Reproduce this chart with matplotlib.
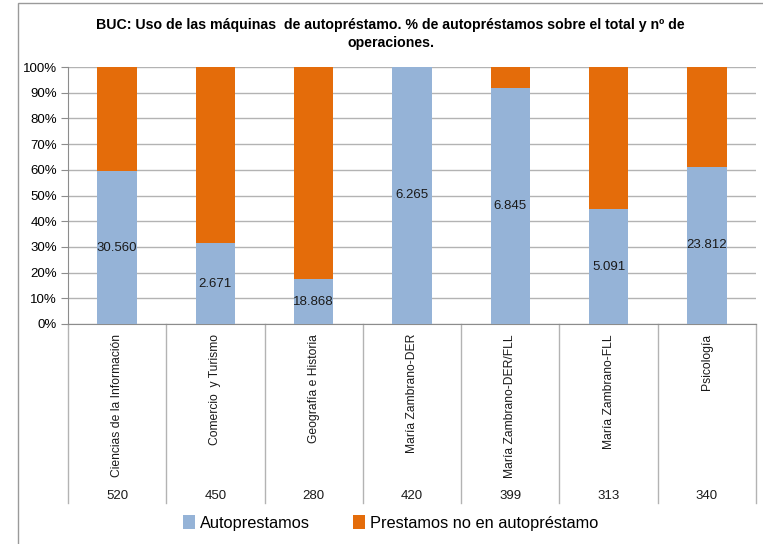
import matplotlib.pyplot as plt
from matplotlib.patches import Rectangle, Patch
from matplotlib.transforms import blended_transform_factory

plt.rcParams['font.family'] = ['Liberation Sans', 'DejaVu Sans']

categories = ['Ciencias de la Información', 'Comercio  y Turismo', 'Geografía e Historia',
              'María Zambrano-DER', 'María Zambrano-DER/FLL', 'María Zambrano-FLL', 'Psicología']
operaciones = ['520', '450', '280', '420', '399', '313', '340']
auto_pct = [59.5, 31.4, 17.5, 100.0, 91.7, 44.6, 61.1]
auto_labels = ['30.560', '2.671', '18.868', '6.265', '6.845', '5.091', '23.812']
resto_pct = [100 - v for v in auto_pct]

blue = '#95B3D7'
orange = '#E46C0A'
grid_col = '#B3B3B3'

fig = plt.figure(figsize=(7.63, 5.44), dpi=100)
W, H = 763, 544
ax = fig.add_axes([68 / W, 1 - 324 / H, (756 - 68) / W, (324 - 67) / H])

# outer chart border
fig.patches.append(Rectangle((18 / W, -0.1), 1.2, 1 - 3 / H + 0.1, transform=fig.transFigure,
                             fill=False, edgecolor='#9A9A9A', linewidth=1.0))

x = list(range(len(categories)))
ax.bar(x, auto_pct, width=0.4, color=blue, zorder=3)
ax.bar(x, resto_pct, width=0.4, bottom=auto_pct, color=orange, zorder=3)

for i, (v, lab) in enumerate(zip(auto_pct, auto_labels)):
    ax.text(i, v / 2, lab, ha='center', va='center', fontsize=9.5, color='#1A1A1A', zorder=4)

ax.set_xlim(-0.5, len(categories) - 0.5)
ax.set_ylim(0, 100)
ax.set_yticks(range(0, 101, 10))
ax.set_yticklabels([f'{t}%' for t in range(0, 101, 10)], fontsize=9.5)
ax.yaxis.grid(True, color=grid_col, linewidth=1.0, zorder=0)
ax.set_xticks([])
ax.tick_params(axis='y', length=5, color='#8C8C8C', pad=3)
for side in ['top', 'right']:
    ax.spines[side].set_visible(False)
ax.spines['left'].set_color('#8C8C8C')
ax.spines['bottom'].set_color('#8C8C8C')

# multi-level category axis
trans = blended_transform_factory(ax.transData, ax.transAxes)
y_end = -(503 - 324) / (324 - 67)
for i in range(len(categories) + 1):
    ax.plot([i - 0.5, i - 0.5], [0, y_end], transform=trans, color='#B3B3B3',
            linewidth=1.0, clip_on=False)
for i, (cat, n) in enumerate(zip(categories, operaciones)):
    ax.text(i, -10 / 257, cat, transform=trans, rotation=90, ha='center', va='top',
            fontsize=8.7, color='#1A1A1A')
    ax.text(i, -(496 - 324) / 257, n, transform=trans, ha='center', va='center',
            fontsize=9.5, color='#1A1A1A')

fig.text(0.512, 1 - 34 / H,
         'BUC: Uso de las máquinas  de autopréstamo. % de autopréstamos sobre el total y nº de\noperaciones.',
         ha='center', va='center', fontsize=10.2, fontweight='bold', linespacing=1.45)

handles = [Patch(facecolor=blue, label='Autoprestamos'),
           Patch(facecolor=orange, label='Prestamos no en autopréstamo')]
fig.legend(handles=handles, loc='center', bbox_to_anchor=(0.512, 1 - 523 / H), ncol=2,
           frameon=False, fontsize=11.8, handlelength=0.75, handleheight=0.9,
           handletextpad=0.3, columnspacing=2.6)

fig.savefig('out.png', dpi=100)
